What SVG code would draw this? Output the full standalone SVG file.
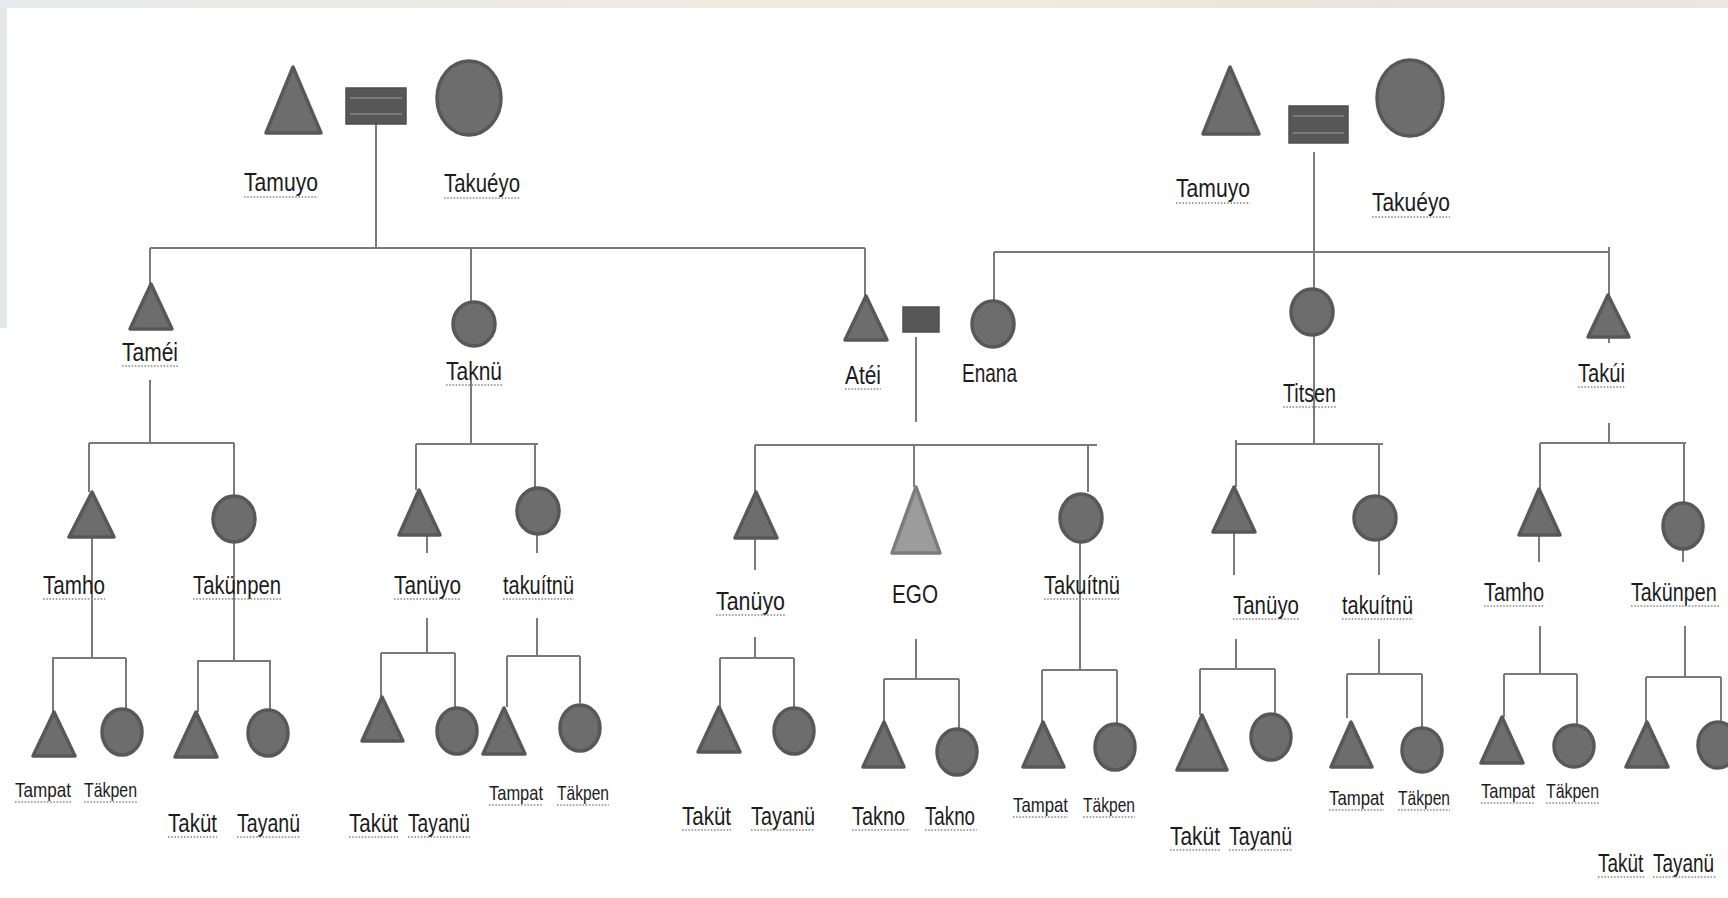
<svg xmlns="http://www.w3.org/2000/svg" width="1728" height="898" viewBox="0 0 1728 898">
<style>
.m{fill:#6d6d6d;stroke:#585858;stroke-width:3.5;stroke-linejoin:round}
.ego{fill:#9c9c9c;stroke:#7c7c7c;stroke-width:3.5;stroke-linejoin:round}
.mr{fill:#575757;stroke:#4f4f4f;stroke-width:1.5}
.eq{stroke:#7a7a7a;stroke-width:2}
.ln{stroke:#7a7a7a;stroke-width:2;fill:none}
.t{font-family:"Liberation Sans",Arial,sans-serif;font-size:26px;fill:#1c1c1c}
.s{font-size:21px}
.u{stroke:#8a8a8a;stroke-width:1.6;stroke-dasharray:1.6 1.6}
</style>
<defs>
<linearGradient id="bgt" x1="0" y1="0" x2="1" y2="0">
<stop offset="0" stop-color="#e6eaec"/><stop offset="0.3" stop-color="#eeeae2"/><stop offset="0.55" stop-color="#f1ece0"/><stop offset="0.8" stop-color="#e9e5dc"/><stop offset="1" stop-color="#ece8e0"/>
</linearGradient>
</defs>
<rect x="0" y="0" width="1728" height="898" fill="#ffffff"/>
<rect x="0" y="0" width="1728" height="8" fill="url(#bgt)"/>
<rect x="0" y="8" width="7" height="320" fill="#e4e8ea"/>

<g id="connectors" class="ln">
<path d="M376 124V248M150 248H865M150 248V284M471 248V302M865 248V296"/>
<path d="M1314 152V289M994 252H1609M994 252V320M1609 247V295"/>
<path d="M150 380V443M89 443H234M89 443V492M234 443V497"/>
<path d="M471 380V444M416 444H538M416 444V490M535 444V490M427 525V553M537 533V553"/>
<path d="M916 337V422M755 445H1097M755 445V492M914 445V487M1088 445V492M755 520V570M1080 540V670"/>
<path d="M1314 335V444M1236 444H1383M1236 440V487M1379 444V495M1234 520V575M1379 540V575"/>
<path d="M1609 337V343M1609 423V443M1540 443H1686M1540 443V489M1684 443V503M1539 520V562M1683 549V562"/>
<path d="M92 520V658M52 658H126M53 658V712M126 658V708"/>
<path d="M234 542V661M197 661H271M198 661V712M270 661V710"/>
<path d="M427 618V653M381 653H455M381 653V697M455 653V707"/>
<path d="M537 618V656M507 656H580M507 656V707M580 656V703"/>
<path d="M755 637V658M720 658H794M720 658V707M794 658V708"/>
<path d="M916 639V679M884 679H959M884 679V722M959 679V729"/>
<path d="M1042 670H1117M1042 670V722M1117 670V723"/>
<path d="M1236 639V669M1200 669H1275M1200 669V715M1275 669V713"/>
<path d="M1379 639V674M1347 674H1422M1347 674V718M1422 674V728"/>
<path d="M1540 626V674M1504 674H1577M1504 674V717M1577 674V725"/>
<path d="M1685 626V677M1646 677H1721M1646 677V722M1721 677V722"/>
</g>

<g id="tamuyo-l"><polygon class="m" points="293,67 266,133 321,133"/><text class="t" x="244" y="191" textLength="74" lengthAdjust="spacingAndGlyphs">Tamuyo</text><line class="u" x1="244" y1="197" x2="318" y2="197"/></g>
<g id="marriage-l"><rect class="mr" x="346" y="88" width="60" height="36"/><line class="eq" x1="350" y1="98" x2="402" y2="98"/><line class="eq" x1="350" y1="114" x2="402" y2="114"/></g>
<g id="takueyo-l"><ellipse class="m" cx="469" cy="98" rx="32" ry="37"/><text class="t" x="444" y="192" textLength="76" lengthAdjust="spacingAndGlyphs">Takuéyo</text><line class="u" x1="444" y1="198" x2="520" y2="198"/></g>

<g id="tamuyo-r"><polygon class="m" points="1230,67 1203,134 1259,134"/><text class="t" x="1176" y="197" textLength="74" lengthAdjust="spacingAndGlyphs">Tamuyo</text><line class="u" x1="1176" y1="203" x2="1250" y2="203"/></g>
<g id="marriage-r"><rect class="mr" x="1289" y="106" width="59" height="37"/><line class="eq" x1="1293" y1="116" x2="1344" y2="116"/><line class="eq" x1="1293" y1="133" x2="1344" y2="133"/></g>
<g id="takueyo-r"><ellipse class="m" cx="1410" cy="98" rx="33" ry="38"/><text class="t" x="1372" y="211" textLength="78" lengthAdjust="spacingAndGlyphs">Takuéyo</text><line class="u" x1="1372" y1="217" x2="1450" y2="217"/></g>

<g id="tamei"><polygon class="m" points="151,284 130,329 172,329"/><text class="t" x="122" y="361" textLength="56" lengthAdjust="spacingAndGlyphs">Taméi</text><line class="u" x1="122" y1="366" x2="178" y2="366"/></g>
<g id="taknu"><ellipse class="m" cx="474" cy="324" rx="21" ry="22"/><text class="t" x="446" y="380" textLength="56" lengthAdjust="spacingAndGlyphs">Taknü</text><line class="u" x1="446" y1="385" x2="502" y2="385"/></g>
<g id="atei"><polygon class="m" points="866,296 845,340 887,340"/><text class="t" x="845" y="384" textLength="36" lengthAdjust="spacingAndGlyphs">Atéi</text><line class="u" x1="845" y1="389" x2="881" y2="389"/></g>
<g id="marriage-m"><rect class="mr" x="903" y="307" width="36" height="25"/></g>
<g id="enana"><ellipse class="m" cx="993" cy="324" rx="21" ry="23"/><text class="t" x="962" y="382" textLength="55" lengthAdjust="spacingAndGlyphs">Enana</text></g>
<g id="titsen"><ellipse class="m" cx="1312" cy="312" rx="21" ry="23"/><text class="t" x="1283" y="402" textLength="53" lengthAdjust="spacingAndGlyphs">Titsen</text><line class="u" x1="1283" y1="407" x2="1336" y2="407"/></g>
<g id="takui"><polygon class="m" points="1608,295 1588,337 1629,337"/><text class="t" x="1578" y="382" textLength="47" lengthAdjust="spacingAndGlyphs">Takúi</text><line class="u" x1="1578" y1="387" x2="1625" y2="387"/></g>

<g id="tamho-l"><polygon class="m" points="92,492 69,537 114,537"/><text class="t" x="43" y="594" textLength="62" lengthAdjust="spacingAndGlyphs">Tamho</text><line class="u" x1="43" y1="599" x2="105" y2="599"/></g>
<g id="takunpen-l"><ellipse class="m" cx="234" cy="519" rx="21" ry="23"/><text class="t" x="193" y="594" textLength="88" lengthAdjust="spacingAndGlyphs">Takünpen</text><line class="u" x1="193" y1="599" x2="281" y2="599"/></g>
<g id="tanuyo-1"><polygon class="m" points="419,490 399,535 440,535"/><text class="t" x="394" y="594" textLength="67" lengthAdjust="spacingAndGlyphs">Tanüyo</text><line class="u" x1="394" y1="599" x2="461" y2="599"/></g>
<g id="takuitnu-1"><ellipse class="m" cx="538" cy="511" rx="21" ry="23"/><text class="t" x="503" y="594" textLength="71" lengthAdjust="spacingAndGlyphs">takuítnü</text><line class="u" x1="503" y1="599" x2="574" y2="599"/></g>
<g id="tanuyo-2"><polygon class="m" points="756,492 735,538 777,538"/><text class="t" x="716" y="610" textLength="69" lengthAdjust="spacingAndGlyphs">Tanüyo</text><line class="u" x1="716" y1="615" x2="785" y2="615"/></g>
<g id="ego"><polygon class="ego" points="916,487 892,553 940,553"/><text class="t" x="892" y="603" textLength="46" lengthAdjust="spacingAndGlyphs">EGO</text></g>
<g id="takuitnu-2"><ellipse class="m" cx="1081" cy="518" rx="21" ry="24"/><text class="t" x="1044" y="594" textLength="76" lengthAdjust="spacingAndGlyphs">Takuítnü</text><line class="u" x1="1044" y1="599" x2="1120" y2="599"/></g>
<g id="tanuyo-3"><polygon class="m" points="1234,487 1213,532 1255,532"/><text class="t" x="1233" y="614" textLength="66" lengthAdjust="spacingAndGlyphs">Tanüyo</text><line class="u" x1="1233" y1="619" x2="1299" y2="619"/></g>
<g id="takuitnu-3"><ellipse class="m" cx="1375" cy="518" rx="21" ry="22"/><text class="t" x="1342" y="614" textLength="71" lengthAdjust="spacingAndGlyphs">takuítnü</text><line class="u" x1="1342" y1="619" x2="1413" y2="619"/></g>
<g id="tamho-r"><polygon class="m" points="1539,489 1519,535 1560,535"/><text class="t" x="1484" y="601" textLength="60" lengthAdjust="spacingAndGlyphs">Tamho</text><line class="u" x1="1484" y1="606" x2="1544" y2="606"/></g>
<g id="takunpen-r"><ellipse class="m" cx="1683" cy="526" rx="20" ry="23"/><text class="t" transform="translate(1631 601) scale(0.76 1)">Takünpen</text><line class="u" x1="1631" y1="606" x2="1719" y2="606"/></g>

<g id="g4-1"><polygon class="m" points="54,712 33,756 75,756"/><ellipse class="m" cx="122" cy="732" rx="20" ry="23"/><text class="t s" x="15" y="797" textLength="56" lengthAdjust="spacingAndGlyphs">Tampat</text><text class="t s" x="84" y="797" textLength="53" lengthAdjust="spacingAndGlyphs">Täkpen</text><line class="u" x1="15" y1="802" x2="71" y2="802"/><line class="u" x1="84" y1="802" x2="137" y2="802"/></g>
<g id="g4-2"><polygon class="m" points="196,712 175,757 217,757"/><ellipse class="m" cx="268" cy="733" rx="20" ry="23"/><text class="t" x="168" y="832" textLength="49" lengthAdjust="spacingAndGlyphs">Taküt</text><text class="t" x="237" y="832" textLength="63" lengthAdjust="spacingAndGlyphs">Tayanü</text><line class="u" x1="168" y1="837" x2="217" y2="837"/><line class="u" x1="237" y1="837" x2="300" y2="837"/></g>
<g id="g4-3"><polygon class="m" points="382,697 362,741 403,741"/><ellipse class="m" cx="457" cy="731" rx="20" ry="23"/><text class="t" x="349" y="832" textLength="49" lengthAdjust="spacingAndGlyphs">Taküt</text><text class="t" x="408" y="832" textLength="62" lengthAdjust="spacingAndGlyphs">Tayanü</text><line class="u" x1="349" y1="837" x2="398" y2="837"/><line class="u" x1="408" y1="837" x2="470" y2="837"/></g>
<g id="g4-4"><polygon class="m" points="504,708 483,754 525,754"/><ellipse class="m" cx="580" cy="728" rx="20" ry="23"/><text class="t s" x="489" y="800" textLength="54" lengthAdjust="spacingAndGlyphs">Tampat</text><text class="t s" x="557" y="800" textLength="52" lengthAdjust="spacingAndGlyphs">Täkpen</text><line class="u" x1="489" y1="805" x2="543" y2="805"/><line class="u" x1="557" y1="805" x2="609" y2="805"/></g>
<g id="g4-5"><polygon class="m" points="719,707 698,752 740,752"/><ellipse class="m" cx="794" cy="731" rx="20" ry="23"/><text class="t" x="682" y="825" textLength="49" lengthAdjust="spacingAndGlyphs">Taküt</text><text class="t" x="751" y="825" textLength="64" lengthAdjust="spacingAndGlyphs">Tayanü</text><line class="u" x1="682" y1="830" x2="731" y2="830"/><line class="u" x1="751" y1="830" x2="815" y2="830"/></g>
<g id="g4-6"><polygon class="m" points="884,722 863,767 904,767"/><ellipse class="m" cx="957" cy="752" rx="20" ry="23"/><text class="t" x="852" y="825" textLength="53" lengthAdjust="spacingAndGlyphs">Takno</text><text class="t" x="925" y="825" textLength="50" lengthAdjust="spacingAndGlyphs">Takno</text><line class="u" x1="852" y1="830" x2="910" y2="830"/><line class="u" x1="925" y1="830" x2="977" y2="830"/></g>
<g id="g4-7"><polygon class="m" points="1043,722 1023,767 1064,767"/><ellipse class="m" cx="1115" cy="747" rx="20" ry="23"/><text class="t s" x="1013" y="812" textLength="55" lengthAdjust="spacingAndGlyphs">Tampat</text><text class="t s" x="1083" y="812" textLength="52" lengthAdjust="spacingAndGlyphs">Täkpen</text><line class="u" x1="1013" y1="817" x2="1068" y2="817"/><line class="u" x1="1083" y1="817" x2="1135" y2="817"/></g>
<g id="g4-8"><polygon class="m" points="1202,715 1177,770 1227,770"/><ellipse class="m" cx="1271" cy="737" rx="20" ry="23"/><text class="t" x="1170" y="845" textLength="50" lengthAdjust="spacingAndGlyphs">Taküt</text><text class="t" x="1229" y="845" textLength="63" lengthAdjust="spacingAndGlyphs">Tayanü</text><line class="u" x1="1170" y1="850" x2="1220" y2="850"/><line class="u" x1="1229" y1="850" x2="1292" y2="850"/></g>
<g id="g4-9"><polygon class="m" points="1351,722 1331,767 1372,767"/><ellipse class="m" cx="1422" cy="750" rx="20" ry="22"/><text class="t s" x="1329" y="805" textLength="55" lengthAdjust="spacingAndGlyphs">Tampat</text><text class="t s" x="1398" y="805" textLength="52" lengthAdjust="spacingAndGlyphs">Täkpen</text><line class="u" x1="1329" y1="810" x2="1384" y2="810"/><line class="u" x1="1398" y1="810" x2="1450" y2="810"/></g>
<g id="g4-10"><polygon class="m" points="1502,717 1481,763 1523,763"/><ellipse class="m" cx="1574" cy="746" rx="20" ry="21"/><text class="t s" x="1481" y="798" textLength="54" lengthAdjust="spacingAndGlyphs">Tampat</text><text class="t s" x="1546" y="798" textLength="53" lengthAdjust="spacingAndGlyphs">Täkpen</text><line class="u" x1="1481" y1="803" x2="1535" y2="803"/><line class="u" x1="1546" y1="803" x2="1599" y2="803"/></g>
<g id="g4-11"><polygon class="m" points="1647,722 1626,767 1668,767"/><ellipse class="m" cx="1718" cy="745" rx="20" ry="23"/><text class="t" transform="translate(1598 872) scale(0.73 1)">Taküt</text><text class="t" transform="translate(1653 872) scale(0.73 1)">Tayanü</text><line class="u" x1="1598" y1="877" x2="1646" y2="877"/><line class="u" x1="1653" y1="877" x2="1717" y2="877"/></g>
</svg>
